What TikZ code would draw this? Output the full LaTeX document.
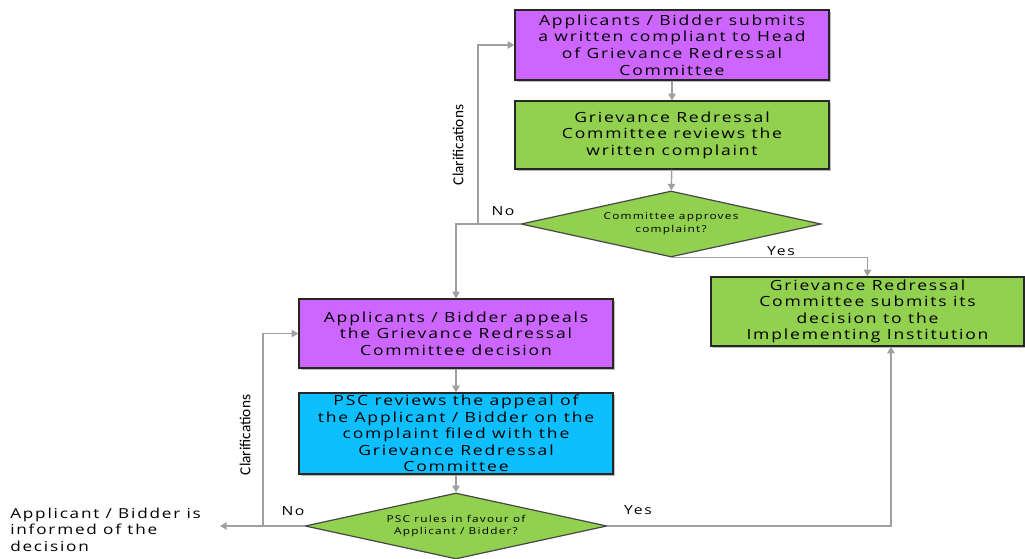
\documentclass[tikz,border=0pt]{standalone}
\usepackage{fontspec}
\setmainfont{Open Sans}[FakeStretch=1.25, LetterSpace=13]
\newfontfamily\clarfont{Carlito}
\usetikzlibrary{arrows.meta,shapes.geometric,shadows}

\definecolor{boxpurple}{HTML}{CC66FF}
\definecolor{boxgreen}{HTML}{92D050}
\definecolor{boxblue}{HTML}{0DBFFF}
\definecolor{linegray}{HTML}{A0A0A0}
\definecolor{edgedark}{HTML}{262626}

\tikzset{
  stepbox/.style={rectangle, draw=edgedark, line width=0.9pt, inner sep=1pt,
    align=center, font=\fontsize{10.5}{12.4}\selectfont,
    drop shadow={shadow xshift=1.2pt, shadow yshift=-1.2pt, opacity=0.45, fill=black!60}},
  decision/.style={diamond, aspect=4.5, draw=edgedark!85, line width=0.9pt, inner sep=0pt,
    fill=boxgreen, align=center, font=\fontsize{7.1}{9.6}\selectfont},
  flow/.style={draw=linegray, line width=1.1pt, -{Triangle[width=5.5pt,length=5pt]}},
  lbl/.style={font=\fontsize{9.4}{11}\selectfont, inner sep=0pt},
  clar/.style={font=\clarfont\fontsize{11.5}{12}\selectfont, rotate=90, inner sep=0pt}
}

\begin{document}
\begin{tikzpicture}[x=0.75pt, y=-0.75pt]
  \useasboundingbox (0,0) rectangle (1025,559);

  % process boxes
  \node[stepbox, fill=boxpurple, minimum width=235.5pt, minimum height=52.5pt] (b1) at (672,45)
    {Applicants / Bidder submits\\a written compliant to Head\\of Grievance Redressal\\Committee};
  \node[stepbox, fill=boxgreen, minimum width=235.5pt, minimum height=51pt] (b2) at (672,135)
    {Grievance Redressal\\Committee reviews the\\written complaint};
  \node[decision, minimum width=225pt, minimum height=49.5pt] (d1) at (671,224)
    {Committee approves\\complaint?};
  \node[stepbox, fill=boxgreen, minimum width=234.75pt, minimum height=51.75pt] (b4) at (867.5,311.5)
    {Grievance Redressal\\Committee submits its\\decision to the\\Implementing Institution};
  \node[stepbox, fill=boxpurple, minimum width=235.5pt, minimum height=51.75pt] (b3) at (456,333.5)
    {Applicants / Bidder appeals\\the Grievance Redressal\\Committee decision};
  \node[stepbox, fill=boxblue, minimum width=235.5pt, minimum height=60.75pt] (b5) at (456,433.5)
    {PSC reviews the appeal of\\the Applicant / Bidder on the\\complaint filed with the\\Grievance Redressal\\Committee};
  \node[decision, minimum width=226.5pt, minimum height=49.5pt] (d2) at (456,526)
    {PSC rules in favour of\\Applicant / Bidder?};

  % outcome text
  \node[anchor=north west, align=left, inner sep=0pt, font=\fontsize{10.3}{12.2}\selectfont] (info) at (10,508)
    {Applicant / Bidder is\\informed of the\\decision};

  % junction points
  \coordinate (c1) at (478,224);
  \coordinate (c2) at (263,526);
  \coordinate (out) at (220,526);

  % connectors
  \draw[flow] (b1) -- (b2);
  \draw[flow] (b2) -- (d1);
  \draw[flow] (d1.west) -| (b3.north);
  \draw[flow] (c1) |- (b1.west);
  \draw[flow] (d1.south) -| (b4.north);
  \draw[flow] (b3) -- (b5);
  \draw[flow] (b5) -- (d2);
  \draw[flow] (d2.west) -- (out);
  \draw[flow] (c2) |- (b3.west);
  \draw[flow] (d2.east) -| ([xshift=17.6pt]b4.south);

  % branch labels
  \node[lbl] (no1) at (503,211) {No};
  \node[lbl] (yes1) at (781,251) {Yes};
  \node[lbl] (no2) at (293,511) {No};
  \node[lbl] (yes2) at (638,510) {Yes};
  \node[clar] (cl1) at (458,145) {Clarifications};
  \node[clar] (cl2) at (245,435) {Clarifications};
\end{tikzpicture}
\end{document}
